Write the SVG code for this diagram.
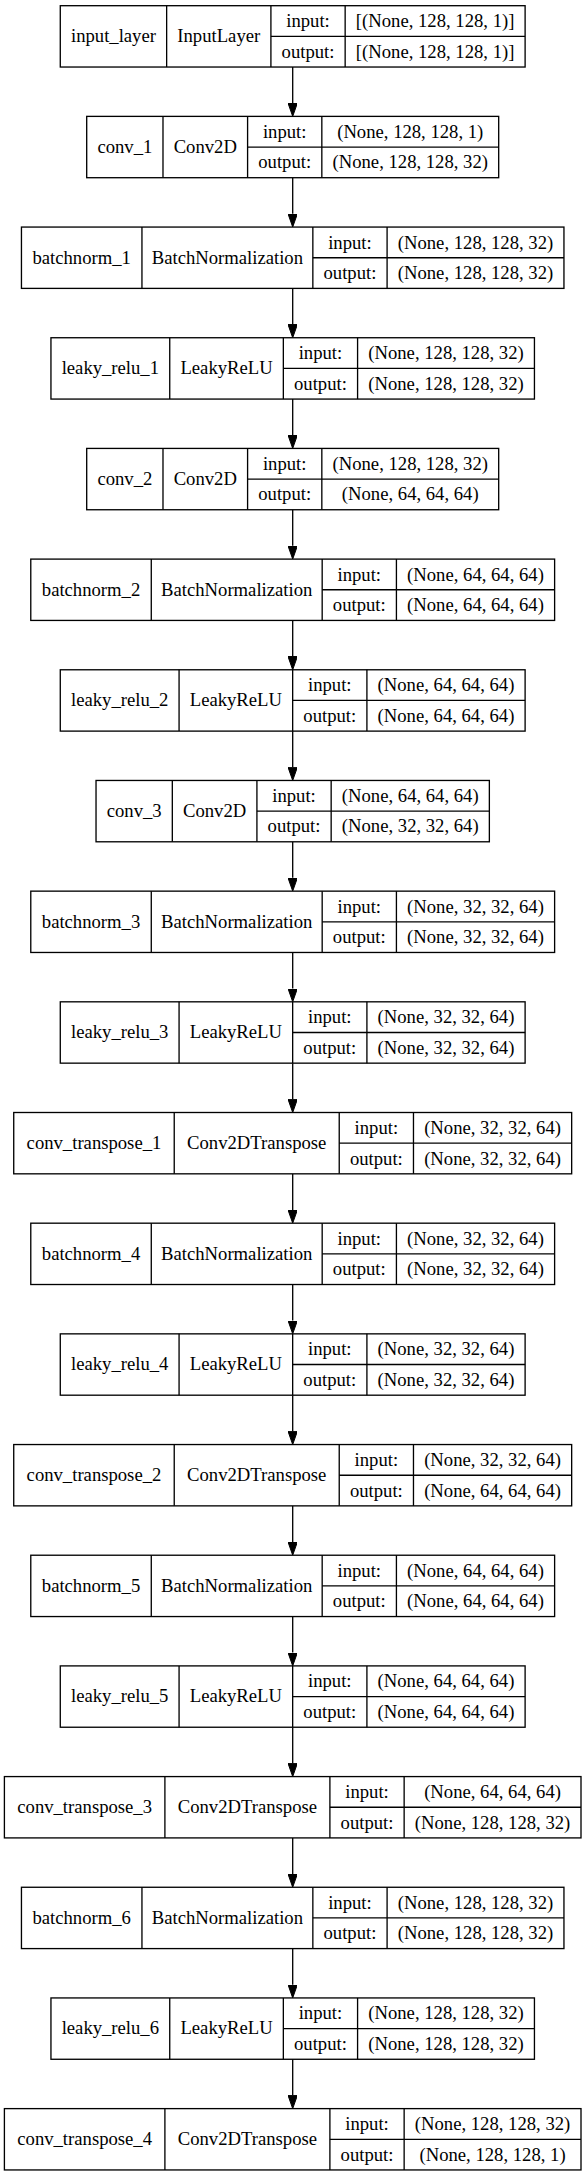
<svg xmlns="http://www.w3.org/2000/svg" width="585" height="2176" viewBox="0 0 585 2176">
<style>
rect.b{fill:#fff;stroke:#000;stroke-width:1.33}
line.d{stroke:#000;stroke-width:1.33}
text{font-family:'Liberation Serif','Times New Roman',Times,serif;font-size:18.67px;fill:#000;text-anchor:middle}
#edges path{stroke:#000;stroke-width:1.33;fill:none;marker-end:url(#ah)}
</style>
<defs>
<marker id="ah" viewBox="0 0 13.3 9.4" refX="0" refY="4.7" markerWidth="13.3" markerHeight="9.4" markerUnits="userSpaceOnUse" orient="auto">
<path d="M0,0 L13.3,4.7 L0,9.4 z" fill="#000" stroke="#000" stroke-width="1"/>
</marker>
</defs>
<rect width="585" height="2176" fill="#fff"/>

<g id="edges">
<path d="M292.7,67.03V103.08"/>
<path d="M292.7,177.71V213.76"/>
<path d="M292.7,288.39V324.44"/>
<path d="M292.7,399.07V435.12"/>
<path d="M292.7,509.75V545.8"/>
<path d="M292.7,620.43V656.48"/>
<path d="M292.7,731.11V767.16"/>
<path d="M292.7,841.79V877.84"/>
<path d="M292.7,952.47V988.52"/>
<path d="M292.7,1063.15V1099.2"/>
<path d="M292.7,1173.83V1209.88"/>
<path d="M292.7,1284.51V1320.56"/>
<path d="M292.7,1395.19V1431.24"/>
<path d="M292.7,1505.87V1541.92"/>
<path d="M292.7,1616.55V1652.6"/>
<path d="M292.7,1727.23V1763.28"/>
<path d="M292.7,1837.91V1873.96"/>
<path d="M292.7,1948.59V1984.64"/>
<path d="M292.7,2059.27V2095.32"/>
</g>

<g id="n0" transform="translate(0,5.7)">
<rect class="b" x="60.28" y="0" width="464.83" height="61.33"/>
<line class="d" x1="166.64" y1="0" x2="166.64" y2="61.33"/>
<line class="d" x1="270.91" y1="0" x2="270.91" y2="61.33"/>
<line class="d" x1="345.15" y1="0" x2="345.15" y2="61.33"/>
<line class="d" x1="270.91" y1="30.67" x2="525.11" y2="30.67"/>
<text x="113.46" y="36.5">input_layer</text>
<text x="218.78" y="36.5">InputLayer</text>
<text x="308.03" y="21.5">input:</text>
<text x="308.03" y="52">output:</text>
<text x="435.13" y="21.5">[(None, 128, 128, 1)]</text>
<text x="435.13" y="52">[(None, 128, 128, 1)]</text>
</g>

<g id="n1" transform="translate(0,116.38)">
<rect class="b" x="86.7" y="0" width="411.99" height="61.33"/>
<line class="d" x1="162.99" y1="0" x2="162.99" y2="61.33"/>
<line class="d" x1="247.59" y1="0" x2="247.59" y2="61.33"/>
<line class="d" x1="321.83" y1="0" x2="321.83" y2="61.33"/>
<line class="d" x1="247.59" y1="30.67" x2="498.69" y2="30.67"/>
<text x="124.85" y="36.5">conv_1</text>
<text x="205.29" y="36.5">Conv2D</text>
<text x="284.71" y="21.5">input:</text>
<text x="284.71" y="52">output:</text>
<text x="410.26" y="21.5">(None, 128, 128, 1)</text>
<text x="410.26" y="52">(None, 128, 128, 32)</text>
</g>

<g id="n2" transform="translate(0,227.06)">
<rect class="b" x="21.45" y="0" width="542.5" height="61.33"/>
<line class="d" x1="141.95" y1="0" x2="141.95" y2="61.33"/>
<line class="d" x1="312.85" y1="0" x2="312.85" y2="61.33"/>
<line class="d" x1="387.09" y1="0" x2="387.09" y2="61.33"/>
<line class="d" x1="312.85" y1="30.67" x2="563.95" y2="30.67"/>
<text x="81.7" y="36.5">batchnorm_1</text>
<text x="227.4" y="36.5">BatchNormalization</text>
<text x="349.97" y="21.5">input:</text>
<text x="349.97" y="52">output:</text>
<text x="475.52" y="21.5">(None, 128, 128, 32)</text>
<text x="475.52" y="52">(None, 128, 128, 32)</text>
</g>

<g id="n3" transform="translate(0,337.74)">
<rect class="b" x="50.95" y="0" width="483.49" height="61.33"/>
<line class="d" x1="169.74" y1="0" x2="169.74" y2="61.33"/>
<line class="d" x1="283.34" y1="0" x2="283.34" y2="61.33"/>
<line class="d" x1="357.58" y1="0" x2="357.58" y2="61.33"/>
<line class="d" x1="283.34" y1="30.67" x2="534.44" y2="30.67"/>
<text x="110.35" y="36.5">leaky_relu_1</text>
<text x="226.54" y="36.5">LeakyReLU</text>
<text x="320.46" y="21.5">input:</text>
<text x="320.46" y="52">output:</text>
<text x="446.01" y="21.5">(None, 128, 128, 32)</text>
<text x="446.01" y="52">(None, 128, 128, 32)</text>
</g>

<g id="n4" transform="translate(0,448.42)">
<rect class="b" x="86.7" y="0" width="411.99" height="61.33"/>
<line class="d" x1="162.99" y1="0" x2="162.99" y2="61.33"/>
<line class="d" x1="247.59" y1="0" x2="247.59" y2="61.33"/>
<line class="d" x1="321.83" y1="0" x2="321.83" y2="61.33"/>
<line class="d" x1="247.59" y1="30.67" x2="498.69" y2="30.67"/>
<text x="124.85" y="36.5">conv_2</text>
<text x="205.29" y="36.5">Conv2D</text>
<text x="284.71" y="21.5">input:</text>
<text x="284.71" y="52">output:</text>
<text x="410.26" y="21.5">(None, 128, 128, 32)</text>
<text x="410.26" y="52">(None, 64, 64, 64)</text>
</g>

<g id="n5" transform="translate(0,559.1)">
<rect class="b" x="30.78" y="0" width="523.84" height="61.33"/>
<line class="d" x1="151.28" y1="0" x2="151.28" y2="61.33"/>
<line class="d" x1="322.18" y1="0" x2="322.18" y2="61.33"/>
<line class="d" x1="396.42" y1="0" x2="396.42" y2="61.33"/>
<line class="d" x1="322.18" y1="30.67" x2="554.62" y2="30.67"/>
<text x="91.03" y="36.5">batchnorm_2</text>
<text x="236.73" y="36.5">BatchNormalization</text>
<text x="359.3" y="21.5">input:</text>
<text x="359.3" y="52">output:</text>
<text x="475.52" y="21.5">(None, 64, 64, 64)</text>
<text x="475.52" y="52">(None, 64, 64, 64)</text>
</g>

<g id="n6" transform="translate(0,669.78)">
<rect class="b" x="60.28" y="0" width="464.83" height="61.33"/>
<line class="d" x1="179.07" y1="0" x2="179.07" y2="61.33"/>
<line class="d" x1="292.67" y1="0" x2="292.67" y2="61.33"/>
<line class="d" x1="366.91" y1="0" x2="366.91" y2="61.33"/>
<line class="d" x1="292.67" y1="30.67" x2="525.11" y2="30.67"/>
<text x="119.68" y="36.5">leaky_relu_2</text>
<text x="235.87" y="36.5">LeakyReLU</text>
<text x="329.79" y="21.5">input:</text>
<text x="329.79" y="52">output:</text>
<text x="446.01" y="21.5">(None, 64, 64, 64)</text>
<text x="446.01" y="52">(None, 64, 64, 64)</text>
</g>

<g id="n7" transform="translate(0,780.46)">
<rect class="b" x="96.03" y="0" width="393.33" height="61.33"/>
<line class="d" x1="172.32" y1="0" x2="172.32" y2="61.33"/>
<line class="d" x1="256.92" y1="0" x2="256.92" y2="61.33"/>
<line class="d" x1="331.16" y1="0" x2="331.16" y2="61.33"/>
<line class="d" x1="256.92" y1="30.67" x2="489.36" y2="30.67"/>
<text x="134.18" y="36.5">conv_3</text>
<text x="214.62" y="36.5">Conv2D</text>
<text x="294.04" y="21.5">input:</text>
<text x="294.04" y="52">output:</text>
<text x="410.26" y="21.5">(None, 64, 64, 64)</text>
<text x="410.26" y="52">(None, 32, 32, 64)</text>
</g>

<g id="n8" transform="translate(0,891.14)">
<rect class="b" x="30.78" y="0" width="523.84" height="61.33"/>
<line class="d" x1="151.28" y1="0" x2="151.28" y2="61.33"/>
<line class="d" x1="322.18" y1="0" x2="322.18" y2="61.33"/>
<line class="d" x1="396.42" y1="0" x2="396.42" y2="61.33"/>
<line class="d" x1="322.18" y1="30.67" x2="554.62" y2="30.67"/>
<text x="91.03" y="36.5">batchnorm_3</text>
<text x="236.73" y="36.5">BatchNormalization</text>
<text x="359.3" y="21.5">input:</text>
<text x="359.3" y="52">output:</text>
<text x="475.52" y="21.5">(None, 32, 32, 64)</text>
<text x="475.52" y="52">(None, 32, 32, 64)</text>
</g>

<g id="n9" transform="translate(0,1001.82)">
<rect class="b" x="60.28" y="0" width="464.83" height="61.33"/>
<line class="d" x1="179.07" y1="0" x2="179.07" y2="61.33"/>
<line class="d" x1="292.67" y1="0" x2="292.67" y2="61.33"/>
<line class="d" x1="366.91" y1="0" x2="366.91" y2="61.33"/>
<line class="d" x1="292.67" y1="30.67" x2="525.11" y2="30.67"/>
<text x="119.68" y="36.5">leaky_relu_3</text>
<text x="235.87" y="36.5">LeakyReLU</text>
<text x="329.79" y="21.5">input:</text>
<text x="329.79" y="52">output:</text>
<text x="446.01" y="21.5">(None, 32, 32, 64)</text>
<text x="446.01" y="52">(None, 32, 32, 64)</text>
</g>

<g id="n10" transform="translate(0,1112.5)">
<rect class="b" x="13.73" y="0" width="557.94" height="61.33"/>
<line class="d" x1="174.23" y1="0" x2="174.23" y2="61.33"/>
<line class="d" x1="339.23" y1="0" x2="339.23" y2="61.33"/>
<line class="d" x1="413.47" y1="0" x2="413.47" y2="61.33"/>
<line class="d" x1="339.23" y1="30.67" x2="571.67" y2="30.67"/>
<text x="93.98" y="36.5">conv_transpose_1</text>
<text x="256.73" y="36.5">Conv2DTranspose</text>
<text x="376.35" y="21.5">input:</text>
<text x="376.35" y="52">output:</text>
<text x="492.57" y="21.5">(None, 32, 32, 64)</text>
<text x="492.57" y="52">(None, 32, 32, 64)</text>
</g>

<g id="n11" transform="translate(0,1223.18)">
<rect class="b" x="30.78" y="0" width="523.84" height="61.33"/>
<line class="d" x1="151.28" y1="0" x2="151.28" y2="61.33"/>
<line class="d" x1="322.18" y1="0" x2="322.18" y2="61.33"/>
<line class="d" x1="396.42" y1="0" x2="396.42" y2="61.33"/>
<line class="d" x1="322.18" y1="30.67" x2="554.62" y2="30.67"/>
<text x="91.03" y="36.5">batchnorm_4</text>
<text x="236.73" y="36.5">BatchNormalization</text>
<text x="359.3" y="21.5">input:</text>
<text x="359.3" y="52">output:</text>
<text x="475.52" y="21.5">(None, 32, 32, 64)</text>
<text x="475.52" y="52">(None, 32, 32, 64)</text>
</g>

<g id="n12" transform="translate(0,1333.86)">
<rect class="b" x="60.28" y="0" width="464.83" height="61.33"/>
<line class="d" x1="179.07" y1="0" x2="179.07" y2="61.33"/>
<line class="d" x1="292.67" y1="0" x2="292.67" y2="61.33"/>
<line class="d" x1="366.91" y1="0" x2="366.91" y2="61.33"/>
<line class="d" x1="292.67" y1="30.67" x2="525.11" y2="30.67"/>
<text x="119.68" y="36.5">leaky_relu_4</text>
<text x="235.87" y="36.5">LeakyReLU</text>
<text x="329.79" y="21.5">input:</text>
<text x="329.79" y="52">output:</text>
<text x="446.01" y="21.5">(None, 32, 32, 64)</text>
<text x="446.01" y="52">(None, 32, 32, 64)</text>
</g>

<g id="n13" transform="translate(0,1444.54)">
<rect class="b" x="13.73" y="0" width="557.94" height="61.33"/>
<line class="d" x1="174.23" y1="0" x2="174.23" y2="61.33"/>
<line class="d" x1="339.23" y1="0" x2="339.23" y2="61.33"/>
<line class="d" x1="413.47" y1="0" x2="413.47" y2="61.33"/>
<line class="d" x1="339.23" y1="30.67" x2="571.67" y2="30.67"/>
<text x="93.98" y="36.5">conv_transpose_2</text>
<text x="256.73" y="36.5">Conv2DTranspose</text>
<text x="376.35" y="21.5">input:</text>
<text x="376.35" y="52">output:</text>
<text x="492.57" y="21.5">(None, 32, 32, 64)</text>
<text x="492.57" y="52">(None, 64, 64, 64)</text>
</g>

<g id="n14" transform="translate(0,1555.22)">
<rect class="b" x="30.78" y="0" width="523.84" height="61.33"/>
<line class="d" x1="151.28" y1="0" x2="151.28" y2="61.33"/>
<line class="d" x1="322.18" y1="0" x2="322.18" y2="61.33"/>
<line class="d" x1="396.42" y1="0" x2="396.42" y2="61.33"/>
<line class="d" x1="322.18" y1="30.67" x2="554.62" y2="30.67"/>
<text x="91.03" y="36.5">batchnorm_5</text>
<text x="236.73" y="36.5">BatchNormalization</text>
<text x="359.3" y="21.5">input:</text>
<text x="359.3" y="52">output:</text>
<text x="475.52" y="21.5">(None, 64, 64, 64)</text>
<text x="475.52" y="52">(None, 64, 64, 64)</text>
</g>

<g id="n15" transform="translate(0,1665.9)">
<rect class="b" x="60.28" y="0" width="464.83" height="61.33"/>
<line class="d" x1="179.07" y1="0" x2="179.07" y2="61.33"/>
<line class="d" x1="292.67" y1="0" x2="292.67" y2="61.33"/>
<line class="d" x1="366.91" y1="0" x2="366.91" y2="61.33"/>
<line class="d" x1="292.67" y1="30.67" x2="525.11" y2="30.67"/>
<text x="119.68" y="36.5">leaky_relu_5</text>
<text x="235.87" y="36.5">LeakyReLU</text>
<text x="329.79" y="21.5">input:</text>
<text x="329.79" y="52">output:</text>
<text x="446.01" y="21.5">(None, 64, 64, 64)</text>
<text x="446.01" y="52">(None, 64, 64, 64)</text>
</g>

<g id="n16" transform="translate(0,1776.58)">
<rect class="b" x="4.4" y="0" width="576.6" height="61.33"/>
<line class="d" x1="164.9" y1="0" x2="164.9" y2="61.33"/>
<line class="d" x1="329.9" y1="0" x2="329.9" y2="61.33"/>
<line class="d" x1="404.14" y1="0" x2="404.14" y2="61.33"/>
<line class="d" x1="329.9" y1="30.67" x2="581" y2="30.67"/>
<text x="84.65" y="36.5">conv_transpose_3</text>
<text x="247.4" y="36.5">Conv2DTranspose</text>
<text x="367.02" y="21.5">input:</text>
<text x="367.02" y="52">output:</text>
<text x="492.57" y="21.5">(None, 64, 64, 64)</text>
<text x="492.57" y="52">(None, 128, 128, 32)</text>
</g>

<g id="n17" transform="translate(0,1887.26)">
<rect class="b" x="21.45" y="0" width="542.5" height="61.33"/>
<line class="d" x1="141.95" y1="0" x2="141.95" y2="61.33"/>
<line class="d" x1="312.85" y1="0" x2="312.85" y2="61.33"/>
<line class="d" x1="387.09" y1="0" x2="387.09" y2="61.33"/>
<line class="d" x1="312.85" y1="30.67" x2="563.95" y2="30.67"/>
<text x="81.7" y="36.5">batchnorm_6</text>
<text x="227.4" y="36.5">BatchNormalization</text>
<text x="349.97" y="21.5">input:</text>
<text x="349.97" y="52">output:</text>
<text x="475.52" y="21.5">(None, 128, 128, 32)</text>
<text x="475.52" y="52">(None, 128, 128, 32)</text>
</g>

<g id="n18" transform="translate(0,1997.94)">
<rect class="b" x="50.95" y="0" width="483.49" height="61.33"/>
<line class="d" x1="169.74" y1="0" x2="169.74" y2="61.33"/>
<line class="d" x1="283.34" y1="0" x2="283.34" y2="61.33"/>
<line class="d" x1="357.58" y1="0" x2="357.58" y2="61.33"/>
<line class="d" x1="283.34" y1="30.67" x2="534.44" y2="30.67"/>
<text x="110.35" y="36.5">leaky_relu_6</text>
<text x="226.54" y="36.5">LeakyReLU</text>
<text x="320.46" y="21.5">input:</text>
<text x="320.46" y="52">output:</text>
<text x="446.01" y="21.5">(None, 128, 128, 32)</text>
<text x="446.01" y="52">(None, 128, 128, 32)</text>
</g>

<g id="n19" transform="translate(0,2108.62)">
<rect class="b" x="4.4" y="0" width="576.6" height="61.33"/>
<line class="d" x1="164.9" y1="0" x2="164.9" y2="61.33"/>
<line class="d" x1="329.9" y1="0" x2="329.9" y2="61.33"/>
<line class="d" x1="404.14" y1="0" x2="404.14" y2="61.33"/>
<line class="d" x1="329.9" y1="30.67" x2="581" y2="30.67"/>
<text x="84.65" y="36.5">conv_transpose_4</text>
<text x="247.4" y="36.5">Conv2DTranspose</text>
<text x="367.02" y="21.5">input:</text>
<text x="367.02" y="52">output:</text>
<text x="492.57" y="21.5">(None, 128, 128, 32)</text>
<text x="492.57" y="52">(None, 128, 128, 1)</text>
</g>
</svg>
